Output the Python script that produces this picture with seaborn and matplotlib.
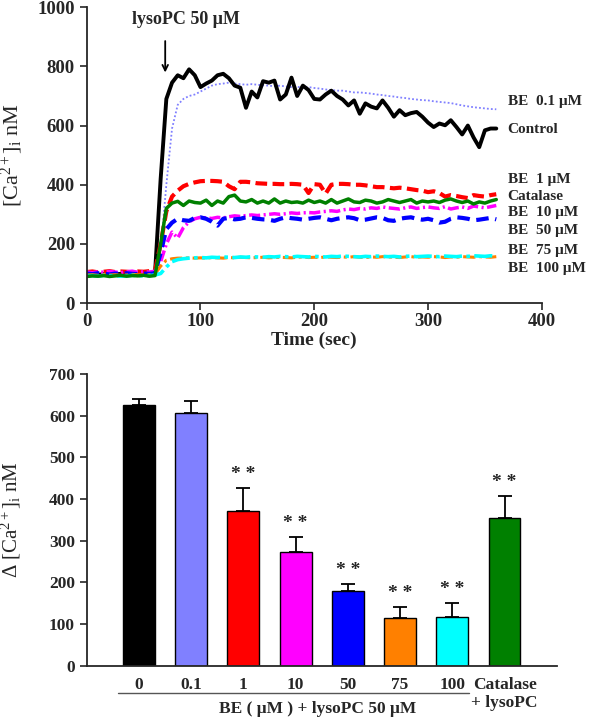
import matplotlib
matplotlib.use("Agg")
import matplotlib.pyplot as plt
import matplotlib.transforms as mtransforms
import seaborn as sns
import pandas as pd

# ---------------- data ----------------
time_sec = list(range(0, 365, 5))

control = [95, 97, 96, 98, 95, 97, 99, 96, 98, 97,
           99, 96, 98, 420, 690, 745, 770, 760, 790, 770,
           730, 742, 752, 770, 775, 760, 735, 728, 660, 715,
           695, 750, 745, 752, 688, 705, 762, 700, 735, 720,
           690, 688, 705, 718, 700, 688, 668, 685, 640, 675,
           664, 658, 685, 660, 630, 652, 635, 642, 646, 630,
           610, 595, 607, 601, 618, 595, 570, 600, 560, 527,
           584, 590, 590]
be_01 = [100, 102, 99, 101, 103, 100, 102, 101, 99, 102,
         100, 103, 101, 180, 400, 590, 670, 690, 700, 705,
         715, 725, 735, 740, 742, 745, 742, 740, 738, 740,
         738, 736, 735, 733, 735, 732, 730, 731, 728, 730,
         727, 725, 722, 720, 718, 718, 715, 712, 712, 710,
         708, 705, 703, 700, 698, 695, 693, 690, 688, 686,
         685, 682, 680, 678, 676, 672, 668, 665, 662, 660,
         658, 656, 655]
be_1 = [105, 107, 104, 106, 108, 105, 107, 106, 104, 107,
        106, 108, 110, 200, 310, 360, 380, 395, 403, 408,
        412, 413, 413, 412, 410, 395, 385, 410, 410, 408,
        405, 404, 403, 403, 402, 402, 403, 402, 400, 372,
        402, 400, 370, 400, 403, 403, 402, 400, 400, 398,
        395, 392, 392, 390, 388, 390, 388, 385, 382, 380,
        375, 378, 372, 360, 365, 362, 358, 355, 365, 362,
        360, 365, 368]
catalase = [90, 92, 91, 93, 90, 92, 94, 91, 93, 92,
            94, 91, 93, 200, 320, 338, 344, 330, 345, 340,
            338, 348, 330, 345, 338, 360, 365, 345, 342, 350,
            338, 345, 338, 352, 338, 345, 340, 342, 338, 348,
            340, 345, 338, 350, 338, 345, 352, 342, 340, 348,
            345, 338, 342, 350, 345, 340, 345, 350, 338, 345,
            342, 345, 340, 348, 352, 345, 340, 345, 335, 342,
            338, 345, 350]
be_10 = [105, 103, 106, 104, 107, 105, 103, 106, 108, 104,
         106, 105, 108, 140, 200, 240, 220, 255, 275, 285,
         290, 288, 286, 290, 288, 292, 295, 293, 296, 298,
         296, 298, 300, 302, 300, 302, 305, 303, 305, 306,
         305, 308, 310, 312, 310, 315, 318, 316, 320, 318,
         322, 320, 325, 322, 320, 318, 322, 325, 320, 323,
         325, 322, 320, 326, 318, 322, 325, 320, 328, 325,
         322, 326, 330]
be_50 = [100, 98, 101, 99, 97, 100, 98, 101, 99, 98,
         100, 99, 101, 170, 250, 272, 285, 280, 278, 288,
         290, 285, 275, 262, 285, 288, 283, 285, 290, 288,
         285, 283, 282, 278, 285, 290, 287, 285, 282, 285,
         288, 290, 285, 280, 285, 288, 290, 287, 280, 282,
         286, 290, 288, 280, 278, 285, 288, 290, 285, 282,
         285, 280, 272, 275, 285, 290, 288, 285, 280, 282,
         285, 288, 283]
be_75 = [95, 96, 94, 97, 95, 96, 94, 95, 97, 96,
         95, 96, 98, 125, 145, 150, 152, 152, 153, 152,
         153, 152, 154, 153, 152, 154, 153, 155, 154, 153,
         154, 155, 153, 154, 155, 154, 153, 155, 156, 154,
         155, 154, 156, 155, 154, 156, 155, 157, 155, 154,
         156, 155, 157, 156, 155, 154, 156, 157, 155, 156,
         155, 157, 156, 154, 156, 155, 157, 156, 155, 157,
         156, 155, 157]
be_100 = [92, 93, 91, 94, 92, 93, 91, 92, 94, 93,
          92, 93, 95, 100, 122, 140, 147, 150, 152, 153,
          154, 153, 155, 154, 156, 155, 154, 156, 155, 157,
          156, 155, 157, 156, 158, 157, 156, 158, 157, 156,
          158, 157, 156, 158, 157, 159, 158, 157, 156, 158,
          157, 159, 158, 157, 158, 156, 158, 159, 157, 158,
          159, 158, 157, 159, 158, 157, 159, 158, 160, 159,
          158, 160, 159]

trace_labels = ["BE  0.1 \u03bcM", "Control", "BE  1 \u03bcM", "Catalase",
                "BE  10 \u03bcM", "BE  50 \u03bcM", "BE  75 \u03bcM", "BE  100 \u03bcM"]
trace_label_y = [680, 587, 419, 361, 305, 247, 179, 117]

bar_labels = ["0", "0.1", "1", "10", "50", "75", "100", "Catalase\n+ lysoPC"]
bar_means = [626, 606, 372, 272, 180, 114, 118, 354]
bar_errors = [14, 29, 54, 38, 16, 28, 32, 54]
bar_signif = ["", "", "* *", "* *", "* *", "* *", "* *", "* *"]
bar_colors = ["#000000", "#8080FF", "#FF0000", "#FF00FF", "#0000FF",
              "#FF8000", "#00FFFF", "#008000"]

# ---------------- style ----------------
sns.set_style("ticks")
plt.rcParams["font.family"] = ["Liberation Serif", "DejaVu Serif"]
plt.rcParams["mathtext.fontset"] = "custom"
plt.rcParams["mathtext.rm"] = "Liberation Serif"
plt.rcParams["mathtext.it"] = "Liberation Serif:italic"
plt.rcParams["mathtext.bf"] = "Liberation Serif:bold"

fig = plt.figure(figsize=(6, 7.2), dpi=100)
ax1 = fig.add_axes([0.1445, 0.579, 0.7585, 0.411])
ax2 = fig.add_axes([0.1445, 0.0754, 0.7835, 0.4052])

# ---------------- top: time courses ----------------
series = [
    (be_01, "#8080FF", (0, (1, 1.2)), 1.3),
    (control, "#000000", "-", 2.8),
    (be_1, "#FF0000", (0, (2.8, 1.3)), 3.0),
    (be_10, "#FF00FF", (0, (3.2, 1.0, 0.6, 1.0)), 2.5),
    (be_50, "#0000FF", (0, (3.0, 1.6)), 3.0),
    (be_75, "#FF8000", (0, (4, 1.2, 1, 1.2)), 2.2),
    (be_100, "#00FFFF", (0, (5, 1.2, 1, 1.2)), 2.6),
    (catalase, "#008000", "-", 2.5),
]
for vals, col, ls, lw in series:
    sns.lineplot(x=time_sec, y=vals, ax=ax1, color=col, linestyle=ls, lw=lw)

for lab, yv in zip(trace_labels, trace_label_y):
    ax1.text(370, yv, lab, fontsize=11, fontweight="bold", va="center", ha="left",
             clip_on=False)

ax1.annotate("", xy=(69, 770), xytext=(69, 895),
             arrowprops=dict(arrowstyle="->", color="black", lw=1.3))
ax1.text(87, 958, "lysoPC 50 \u03bcM", fontsize=13, fontweight="bold",
         ha="center", va="center")

ax1.set_xlim(0, 400)
ax1.set_ylim(0, 1000)
ax1.set_xticks([0, 100, 200, 300, 400])
ax1.set_yticks([0, 200, 400, 600, 800, 1000])
ax1.tick_params(axis="both", direction="out", length=5, width=1.2, labelsize=13.5)
ax1.tick_params(axis="x", pad=2)
for lbl in ax1.get_xticklabels() + ax1.get_yticklabels():
    lbl.set_fontweight("bold")
ax1.set_xlabel("Time (sec)", fontsize=14, fontweight="bold")
ax1.xaxis.set_label_coords(0.5, -0.098)
ax1.set_ylabel(r"[Ca$^{\mathrm{2+}}$]$_{\mathrm{i}}$ nM", fontsize=16)
ax1.yaxis.set_label_coords(-0.135, 0.5)
sns.despine(ax=ax1)
for sp in ax1.spines.values():
    sp.set_linewidth(1.3)

# ---------------- bottom: bars ----------------
df = pd.DataFrame({"group": bar_labels, "value": bar_means})
sns.barplot(data=df, x="group", y="value", hue="group", palette=bar_colors,
            legend=False, ax=ax2, width=0.61, edgecolor="black", linewidth=1.0,
            errorbar=None, saturation=1)
xs = list(range(len(bar_labels)))
ax2.errorbar(xs, bar_means, yerr=[[0] * len(bar_errors), bar_errors], fmt="none",
             ecolor="black", elinewidth=1.3, capsize=5, capthick=1.3)
for x, m, e, s in zip(xs, bar_means, bar_errors, bar_signif):
    if s:
        ax2.text(x, m + e + 32, s, ha="center", va="center", fontsize=14,
                 fontweight="bold")

ax2.set_xlim(-1.0, 8.0)
ax2.set_ylim(0, 700)
ax2.set_yticks(range(0, 701, 100))
ax2.tick_params(axis="y", direction="out", length=5, width=1.2, labelsize=12.5)
ax2.tick_params(axis="x", length=0, labelsize=12.5, pad=8)
for lbl in ax2.get_xticklabels() + ax2.get_yticklabels():
    lbl.set_fontweight("bold")
ax2.set_xlabel("")
ax2.set_ylabel(r"$\Delta$ [Ca$^{\mathrm{2+}}$]$_{\mathrm{i}}$ nM", fontsize=15)
ax2.yaxis.set_label_coords(-0.135, 0.5)
sns.despine(ax=ax2)
for sp in ax2.spines.values():
    sp.set_linewidth(1.3)

trans = mtransforms.blended_transform_factory(ax2.transData, ax2.transAxes)
ax2.plot([-0.4, 6.32], [-0.095, -0.095], transform=trans, color="#555555",
         lw=1.0, clip_on=False)
ax2.text(3.42, -0.148, "BE ( \u03bcM ) + lysoPC 50 \u03bcM", transform=trans,
         ha="center", va="center", fontsize=12.5, fontweight="bold")

fig.savefig("out.png", dpi=100)
